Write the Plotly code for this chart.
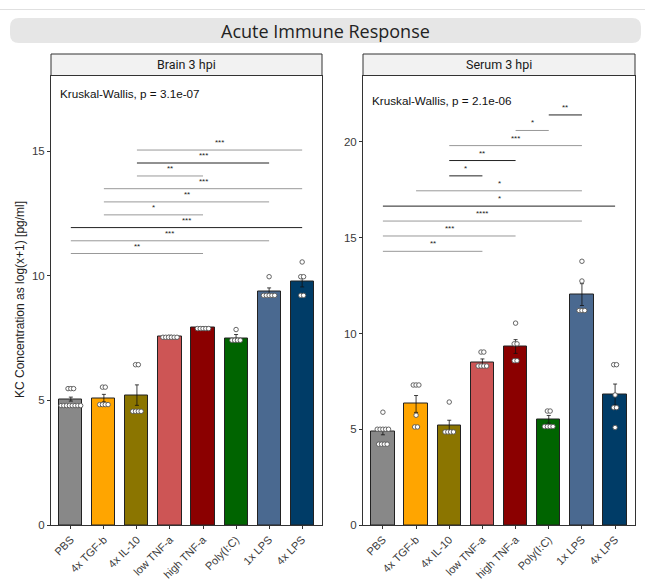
import plotly.graph_objects as go

W, H = 645, 581

categories = ["PBS", "4x TGF-b", "4x IL-10", "low TNF-a", "high TNF-a", "Poly(I:C)", "1x LPS", "4x LPS"]
bar_colors = ["#888888", "#FFA500", "#8B7500", "#CD5555", "#8B0000", "#006400", "#4A6990", "#003C67"]

# Brain 3 hpi
brain_means = [5.05, 5.09, 5.21, 7.57, 7.91, 7.49, 9.36, 9.77]
brain_se = [0.08, 0.15, 0.41, 0.04, 0.03, 0.15, 0.15, 0.22]
brain_points = [
    [5.47, 5.47, 5.47, 4.79, 4.79, 4.79, 4.79, 4.79, 4.79, 4.79, 4.79],
    [5.53, 5.53, 4.83, 4.83, 4.83, 4.83],
    [6.43, 6.43, 4.56, 4.56, 4.56, 4.56],
    [7.53, 7.53, 7.53, 7.53, 7.53, 7.53],
    [7.88, 7.88, 7.88, 7.88, 7.88],
    [7.84, 7.41, 7.41, 7.41, 7.41],
    [9.96, 9.21, 9.21, 9.21, 9.21, 9.21],
    [10.55, 9.96, 9.96, 9.21, 9.21],
]
brain_br_start = [3, 3, 3, 2, 2, 2, 1, 1, 1]
brain_br_end = [8, 7, 5, 8, 7, 5, 8, 7, 5]
brain_br_y = [15.04, 14.52, 14.0, 13.49, 12.96, 12.44, 11.93, 11.4, 10.89]
brain_br_label = ["***", "***", "**", "***", "**", "*", "***", "***", "**"]
brain_kw = "Kruskal-Wallis, p = 3.1e-07"

# Serum 3 hpi
serum_means = [4.86, 6.32, 5.17, 8.47, 9.32, 5.52, 12.03, 6.81]
serum_se = [0.15, 0.44, 0.30, 0.20, 0.36, 0.20, 0.57, 0.55]
serum_points = [
    [5.89, 5.0, 5.0, 5.0, 5.0, 5.0, 4.22, 4.22, 4.22, 4.22],
    [7.31, 7.31, 7.31, 5.73, 5.12, 5.12],
    [6.42, 4.86, 4.86, 4.86, 4.86],
    [9.03, 9.03, 8.3, 8.3, 8.3, 8.3],
    [10.54, 9.46, 9.46, 8.58, 8.58],
    [5.95, 5.95, 5.14, 5.14, 5.14, 5.14],
    [13.77, 12.74, 11.2, 11.2, 11.2],
    [8.37, 8.37, 6.79, 6.13, 6.13, 5.09],
]
serum_br_start = [6, 5, 3, 3, 3, 2, 1, 1, 1, 1]
serum_br_end = [7, 6, 7, 5, 4, 7, 8, 7, 5, 4]
serum_br_y = [21.41, 20.6, 19.81, 19.03, 18.23, 17.45, 16.65, 15.87, 15.09, 14.29]
serum_br_label = ["**", "*", "***", "**", "*", "*", "*", "****", "***", "**"]
serum_kw = "Kruskal-Wallis, p = 2.1e-06"

# styles (not data)
brain_br_dark = [False, True, False, False, False, False, True, False, False]
serum_br_dark = [True, False, False, True, True, False, True, False, False, False]

fig = go.Figure()

def px_x(p):
    return p / W

def px_y(p):
    return 1 - p / H

panels = [
    dict(xa="x", ya="y", xdom=(51, 322), yrange=[0, 18.03], ticks=[0, 5, 10, 15],
         means=brain_means, se=brain_se, pts=brain_points, bs=brain_br_start, be=brain_br_end,
         by=brain_br_y, bl=brain_br_label, bd=brain_br_dark, kw=brain_kw, kwy=93, strip="Brain 3 hpi"),
    dict(xa="x2", ya="y2", xdom=(363, 635), yrange=[0, 23.47], ticks=[0, 5, 10, 15, 20],
         means=serum_means, se=serum_se, pts=serum_points, bs=serum_br_start, be=serum_br_end,
         by=serum_br_y, bl=serum_br_label, bd=serum_br_dark, kw=serum_kw, kwy=100, strip="Serum 3 hpi"),
]

xpos = list(range(1, len(categories) + 1))
shapes = []
annotations = []

for i, p in enumerate(panels):
    fig.add_trace(go.Bar(
        x=xpos, y=p["means"], width=0.7,
        marker=dict(color=bar_colors, line=dict(color="#222222", width=1)),
        error_y=dict(type="data", array=p["se"], color="#111111", thickness=0.8, width=2),
        xaxis=p["xa"], yaxis=p["ya"], showlegend=False, hoverinfo="skip"))
    px_, py_ = [], []
    for ci, vals in enumerate(p["pts"]):
        groups = {}
        for v in vals:
            groups[v] = groups.get(v, 0) + 1
        for v, n in groups.items():
            step = 0.085
            for k in range(n):
                px_.append(ci + 1 + (k - (n - 1) / 2) * step)
                py_.append(v)
    fig.add_trace(go.Scatter(
        x=px_, y=py_, mode="markers",
        marker=dict(symbol="circle", size=4.5, color="white", line=dict(color="#555555", width=0.9)),
        xaxis=p["xa"], yaxis=p["ya"], showlegend=False, hoverinfo="skip"))
    xr = "x" if i == 0 else "x2"
    yr = "y" if i == 0 else "y2"
    for s, e, yv, lab, dark in zip(p["bs"], p["be"], p["by"], p["bl"], p["bd"]):
        shapes.append(dict(type="line", xref=xr, yref=yr, x0=s, x1=e, y0=yv, y1=yv,
                           line=dict(color="#222222" if dark else "#999999", width=1)))
        annotations.append(dict(x=(s + e) / 2, y=yv, xref=xr, yref=yr, text=lab, showarrow=False,
                                xanchor="center", yanchor="bottom", yshift=1,
                                font=dict(size=8, color="#222222", family="Liberation Sans")))
    x0, x1 = px_x(p["xdom"][0]), px_x(p["xdom"][1])
    shapes.append(dict(type="rect", xref="paper", yref="paper", x0=x0, x1=x1, y0=px_y(75.5), y1=px_y(54),
                       fillcolor="#F2F2F2", line=dict(color="#333333", width=1), layer="below"))
    annotations.append(dict(x=(x0 + x1) / 2, y=px_y(65), xref="paper", yref="paper", text=p["strip"],
                            showarrow=False, xanchor="center", yanchor="middle",
                            font=dict(size=12.5, color="#1a1a1a", family="Roboto")))
    annotations.append(dict(x=px_x(p["xdom"][0] + 7), y=px_y(p["kwy"]), xref="paper", yref="paper",
                            text=p["kw"], showarrow=False, xanchor="left", yanchor="middle",
                            font=dict(size=11.7, color="#111111", family="Liberation Sans")))

axis_common = dict(showgrid=False, zeroline=False, showline=True, mirror=True, linecolor="#333333",
                   linewidth=1, ticks="outside", ticklen=3, tickcolor="#333333", automargin=False,
                   tickfont=dict(size=11.5, color="#3a3a3a", family="Liberation Sans"))

layout_axes = {}
for i, p in enumerate(panels):
    sx = "" if i == 0 else "2"
    layout_axes["xaxis" + sx] = dict(axis_common, domain=[px_x(p["xdom"][0]), px_x(p["xdom"][1])],
                                     range=[0.4, 8.6], tickvals=xpos, ticktext=categories, tickangle=-45,
                                     tickfont=dict(size=11, color="#3a3a3a", family="Liberation Sans"),
                                     anchor="y" + sx)
    layout_axes["yaxis" + sx] = dict(axis_common, domain=[px_y(525), px_y(75.5)], range=p["yrange"],
                                     tickvals=p["ticks"], anchor="x" + sx)

bx0, bx1, by0, by1 = px_x(10), px_x(641), px_y(43), px_y(18)
rx, ry = 9 / W, 9 / H
path = (f"M {bx0+rx},{by1} L {bx1-rx},{by1} Q {bx1},{by1} {bx1},{by1-ry} L {bx1},{by0+ry} "
        f"Q {bx1},{by0} {bx1-rx},{by0} L {bx0+rx},{by0} Q {bx0},{by0} {bx0},{by0+ry} "
        f"L {bx0},{by1-ry} Q {bx0},{by1} {bx0+rx},{by1} Z")
shapes.append(dict(type="path", path=path, xref="paper", yref="paper", fillcolor="#E6E6E6",
                   line=dict(width=0), layer="below"))
shapes.append(dict(type="line", xref="paper", yref="paper", x0=0, x1=1, y0=px_y(9.5), y1=px_y(9.5),
                   line=dict(color="#E0E0E0", width=1)))
annotations.append(dict(x=px_x(325), y=px_y(31), xref="paper", yref="paper", text="Acute Immune Response",
                        showarrow=False, xanchor="center", yanchor="middle",
                        font=dict(size=18, color="#222222", family="Open Sans")))
annotations.append(dict(x=px_x(20), y=px_y(300), xref="paper", yref="paper",
                        text="KC Concentration as log(x+1) [pg/ml]", textangle=-90, showarrow=False,
                        xanchor="center", yanchor="middle",
                        font=dict(size=12, color="#222222", family="Liberation Sans")))

fig.update_layout(width=W, height=H, margin=dict(l=0, r=0, t=0, b=0, autoexpand=False),
                  plot_bgcolor="white", paper_bgcolor="white", shapes=shapes, annotations=annotations,
                  bargap=0, **layout_axes)

fig.write_html("out.html", config={"displayModeBar": False},
               post_script="document.body.style.margin='0';document.body.style.overflow='hidden';")
